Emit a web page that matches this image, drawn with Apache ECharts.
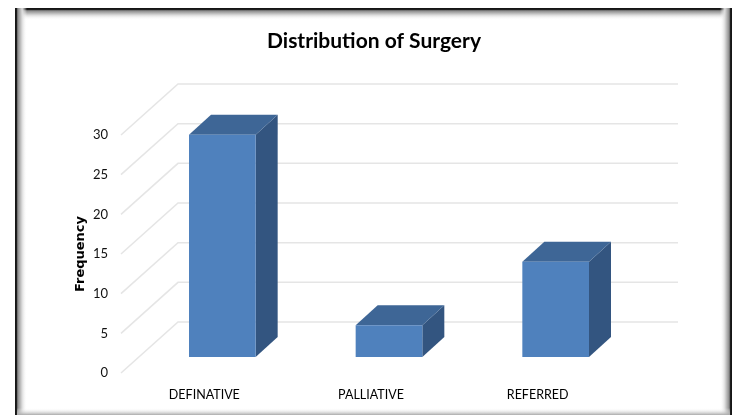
<!DOCTYPE html>
<html>
<head>
<meta charset="utf-8">
<style>
  html, body { margin: 0; padding: 0; background: #fff; }
  #chart { width: 735px; height: 415px; }
</style>
<script src="https://cdn.jsdelivr.net/npm/echarts@6/dist/echarts.min.js"></script>
</head>
<body>
<div id="chart"></div>
<script>
const categories = ['DEFINATIVE', 'PALLIATIVE', 'REFERRED']
const frequency = [28, 4, 12]
const yTicks = [0, 5, 10, 15, 20, 25, 30]

const chart = echarts.init(document.getElementById('chart'))

// fake 3d: offsets from the front of the floor, in pixels
const wallDx = 57
const wallDy = -51
const barDx = 18
const barDy = -16
const depthDx = 22
const depthDy = -20

const renderGridLine = (params, api) => {
  const y = api.coord([0, api.value(1)])[1]
  const x0 = params.coordSys.x
  const x1 = x0 + params.coordSys.width
  return {
    type: 'polyline',
    shape: { points: [[x0, y], [x0 + wallDx, y + wallDy], [x1 + wallDx, y + wallDy]] },
    style: { stroke: '#e5e5e5', lineWidth: 1.5, fill: 'none' }
  }
}

const renderBar = (params, api) => {
  const top = api.coord([api.value(0), api.value(1)])
  const base = api.coord([api.value(0), 0])
  const w = api.size([1, 0])[0] * 0.4
  const l = top[0] - w / 2 + barDx
  const r = l + w
  const t = top[1] + barDy
  const b = base[1] + barDy
  return {
    type: 'group',
    children: [
      {
        type: 'polygon',
        shape: { points: [[r, t], [r + depthDx, t + depthDy], [r + depthDx, b + depthDy], [r, b]] },
        style: { fill: '#335580' }
      },
      {
        type: 'polygon',
        shape: { points: [[l, t], [l + depthDx, t + depthDy], [r + depthDx, t + depthDy], [r, t]] },
        style: { fill: '#3e6696' }
      },
      {
        type: 'rect',
        shape: { x: l, y: t, width: w, height: b - t },
        style: { fill: '#4f81bd' }
      }
    ]
  }
}

const edge = (x, y, width, height, gx, gy, gx2, gy2) => ({
  type: 'rect',
  silent: true,
  shape: { x, y, width, height },
  style: {
    fill: new echarts.graphic.LinearGradient(gx, gy, gx2, gy2, [
      { offset: 0, color: '#111' },
      { offset: 0.16, color: '#222' },
      { offset: 0.22, color: '#888' },
      { offset: 0.6, color: '#ddd' },
      { offset: 1, color: 'rgba(255,255,255,0)' }
    ])
  }
})

chart.setOption({
  animation: false,
  backgroundColor: '#fff',
  textStyle: { fontFamily: 'Lato' },
  title: {
    text: 'Distribution of Surgery',
    left: 369,
    top: 26,
    textAlign: 'center',
    textStyle: { fontFamily: 'Lato', fontSize: 21, fontWeight: 'bold', color: '#000' }
  },
  graphic: [
    edge(15, 8, 717, 12, 0, 0, 0, 1),
    edge(15, 8, 12, 407, 0, 0, 1, 0),
    edge(720, 8, 12, 407, 1, 0, 0, 0),
    {
      type: 'rect',
      silent: true,
      shape: { x: 17, y: 408, width: 713, height: 7 },
      style: {
        fill: new echarts.graphic.LinearGradient(0, 0, 0, 1, [
          { offset: 0, color: 'rgba(255,255,255,0)' },
          { offset: 1, color: '#aaa' }
        ])
      }
    }
  ],
  grid: { left: 121, top: 135, width: 500, height: 238 },
  xAxis: {
    type: 'category',
    data: categories,
    axisLine: { show: false },
    axisTick: { show: false },
    axisLabel: { color: '#000', fontSize: 12.5, margin: 15 }
  },
  yAxis: {
    type: 'value',
    min: 0,
    max: 30,
    interval: 5,
    name: 'Frequency',
    nameLocation: 'middle',
    nameGap: 34,
    nameMoveOverlap: false,
    nameTextStyle: { color: '#000', fontFamily: 'DejaVu Sans', fontSize: 13, fontWeight: 'bold' },
    axisLine: { show: false },
    axisTick: { show: false },
    splitLine: { show: false },
    axisLabel: { color: '#111', fontSize: 13, margin: 13, padding: [3, 0, 0, 0] }
  },
  series: [
    {
      type: 'custom',
      name: 'grid',
      silent: true,
      clip: false,
      z: 1,
      renderItem: renderGridLine,
      data: yTicks.map(v => [0, v])
    },
    {
      type: 'custom',
      name: 'Frequency',
      clip: false,
      z: 2,
      renderItem: renderBar,
      data: frequency.map((v, i) => [i, v])
    }
  ]
})
</script>
</body>
</html>
